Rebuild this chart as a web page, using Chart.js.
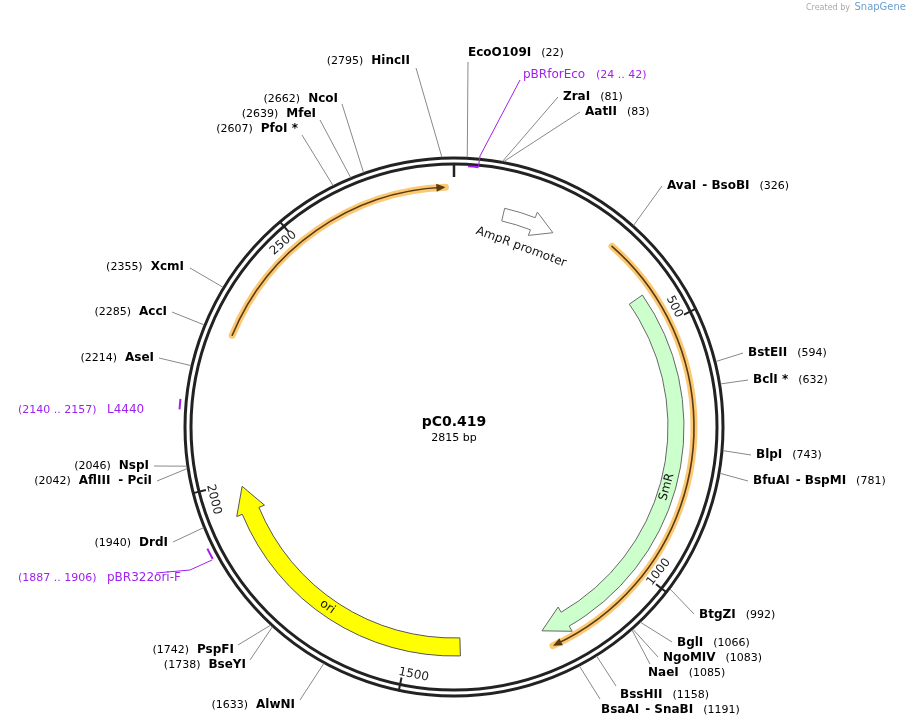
<!DOCTYPE html>
<html><head><meta charset="utf-8">
<script src="https://cdn.jsdelivr.net/npm/chart.js@4"></script>
<style>html,body{margin:0;padding:0;background:#fff}#w{width:910px;height:727px}</style>
</head><body><div id="w"><canvas id="c" width="910" height="727"></canvas></div>
<script>
const plasmidName = "pC0.419";
const plasmidLength = 2815;
const enzymeNames = ["EcoO109I","ZraI","AatII","AvaI - BsoBI","BstEII","BclI *","BlpI","BfuAI - BspMI","BtgZI","BglI","NgoMIV","NaeI","BssHII","BsaAI - SnaBI","AlwNI","BseYI","PspFI","DrdI","AflIII - PciI","NspI","AseI","AccI","XcmI","PfoI *","MfeI","NcoI","HincII"];
const enzymeSites = [22,81,83,326,594,632,743,781,992,1066,1083,1085,1158,1191,1633,1738,1742,1940,2042,2046,2214,2285,2355,2607,2639,2662,2795];
const featureNames = ["AmpR promoter","SmR","ori"];
const featureStarts = [102,430,1395];
const featureEnds = [211,1225,1989];
const primerNames = ["pBRforEco","L4440","pBR322ori-F"];
const primerStarts = [24,2140,1887];
const primerEnds = [42,2157,1906];
const tickValues = [500,1000,1500,2000,2500];

const labelLayout = [
 [468,56,'R',468,62],[563,100,'R',558,97],[585,115,'R',580,112],[667,189,'R',662,186],
 [748,356,'R',743,353],[753,383,'R',748,380],[756,458,'R',751,455],[753,484,'R',748,481],
 [699,618,'R',694,614],[677,646,'R',672,642],[663,661,'R',658,657],[648,676,'R',650,664],
 [620,698,'R',616,686],[601,713,'R',600,699],
 [295,708,'L',300,700],[246,668,'L',250,660],[234,653,'L',238,645],[168,546,'L',173,542],
 [152,484,'L',157,481],[149,469,'L',154,466],[154,361,'L',159,358],[167,315,'L',172,312],
 [184,270,'L',190,268],[298,132,'L',302,135],[316,117,'L',320,120],[338,102,'L',342,104],[410,64,'L',416,68]
];

const CX=454, CY=427, R=266;
const ang = bp => bp/plasmidLength*2*Math.PI - Math.PI/2;
const FONT = '"DejaVu Sans", Verdana, sans-serif';

const mapPlugin = {
 id:'map',
 afterDatasetsDraw(chart){
  const ctx=chart.ctx, xs=chart.scales.x, ys=chart.scales.y;
  const P=(x,y)=>[xs.getPixelForValue(x), ys.getPixelForValue(y)];
  const pol=(bp,r)=>P(CX+r*Math.cos(ang(bp)), CY+r*Math.sin(ang(bp)));
  const [cx,cy]=P(CX,CY);
  const k = xs.getPixelForValue(1)-xs.getPixelForValue(0);
  ctx.save();
  ctx.strokeStyle='#222'; ctx.lineWidth=3;
  [R+3,R-3].forEach(r=>{ctx.beginPath();ctx.arc(cx,cy,r*k,0,2*Math.PI);ctx.stroke();});
  ctx.lineWidth=2.5; ctx.beginPath(); let a=pol(0,R-3),b=pol(0,R-16); ctx.moveTo(...a);ctx.lineTo(...b);ctx.stroke();
  ctx.lineWidth=2; ctx.font='12px '+FONT; ctx.fillStyle='#222'; ctx.textAlign='center'; ctx.textBaseline='middle';
  tickValues.forEach(t=>{
    let a=pol(t,R+4),b=pol(t,R-10); ctx.beginPath();ctx.moveTo(...a);ctx.lineTo(...b);ctx.stroke();
    let th=t/plasmidLength*2*Math.PI; let rot=(th>Math.PI/2&&th<3*Math.PI/2)?th-Math.PI:th;
    let p=pol(t-20, R-15);
    ctx.save();ctx.translate(...p);ctx.rotate(rot);ctx.fillText(String(t),0,0);ctx.restore();
  });
  function orange(s,e,r){
    const a1=ang(s), a2=ang(e);
    ctx.lineCap='round';
    ctx.strokeStyle='rgba(250,190,90,0.85)'; ctx.lineWidth=7;
    ctx.beginPath(); ctx.arc(cx,cy,r*k,a1,a2); ctx.stroke();
    ctx.strokeStyle='#5a3a10'; ctx.lineWidth=1.6;
    ctx.beginPath(); ctx.arc(cx,cy,r*k,a1,a2-0.01); ctx.stroke();
    const tip=pol(e,r), h=9/r, b1=pol(e-h*plasmidLength/(2*Math.PI),r+4), b2=pol(e-h*plasmidLength/(2*Math.PI),r-4);
    ctx.fillStyle='#5a3a10'; ctx.beginPath();ctx.moveTo(...tip);ctx.lineTo(...b1);ctx.lineTo(...b2);ctx.closePath();ctx.fill();
    ctx.lineCap='butt';
  }
  orange(322,1217,240); orange(2287,2799,240);
  const styles=[['#fff','#777',13,218],['#ccffcc','#666',16,222],['#ffff00','#555',18,220]];
  featureNames.forEach((n,i)=>{
    const [fill,st,w,r]=styles[i]; const s=featureStarts[i], e=featureEnds[i];
    const hl=(i==0?22:26)/r, eh=ang(e)-hl;
    const ro=r+w/2, ri=r-w/2, ex=i==0?6:6;
    ctx.beginPath();
    ctx.arc(cx,cy,ro*k,ang(s),eh);
    ctx.lineTo(cx+(ro+ex)*k*Math.cos(eh), cy+(ro+ex)*k*Math.sin(eh));
    ctx.lineTo(cx+r*k*Math.cos(ang(e)), cy+r*k*Math.sin(ang(e)));
    ctx.lineTo(cx+(ri-ex)*k*Math.cos(eh), cy+(ri-ex)*k*Math.sin(eh));
    ctx.lineTo(cx+ri*k*Math.cos(eh), cy+ri*k*Math.sin(eh));
    ctx.arc(cx,cy,ri*k,eh,ang(s),true);
    ctx.closePath(); ctx.fillStyle=fill; ctx.fill(); ctx.strokeStyle=st; ctx.lineWidth=1; ctx.stroke();
  });
  ctx.fillStyle='#111'; ctx.font='12px '+FONT;
  const flab=[[160,192],[827,221],[1682,220]];
  featureNames.forEach((n,i)=>{
    const [bp,r]=flab[i]; const th=bp/plasmidLength*2*Math.PI;
    const rot=(th>Math.PI/2&&th<3*Math.PI/2)?th-Math.PI:th;
    const p=pol(bp,r); ctx.save();ctx.translate(...p);ctx.rotate(rot);ctx.fillText(n,0,0);ctx.restore();
  });
  ctx.strokeStyle='#a020f0'; ctx.lineWidth=2;
  const prLay=[[261,523,78],[275,107,413],[275,107,581]];
  primerNames.forEach((n,i)=>{
    const [r,tx,ty]=prLay[i];
    ctx.beginPath(); ctx.arc(cx,cy,r*k,ang(primerStarts[i]),ang(primerEnds[i])); ctx.stroke();
    ctx.lineWidth=1; ctx.beginPath();
    if(i==0){ctx.moveTo(...pol(primerEnds[i],r));ctx.lineTo(...P(480,156));ctx.lineTo(...P(520,80));}
    else if(i==2){ctx.moveTo(...P(212,560));ctx.lineTo(...P(190,570));ctx.lineTo(...P(156,573));}
    ctx.stroke(); ctx.lineWidth=2;
    ctx.textAlign='left'; ctx.textBaseline='alphabetic'; ctx.fillStyle='#a020f0';
    const rng='('+primerStarts[i]+' .. '+primerEnds[i]+')';
    if(i==0){ctx.font='12px '+FONT;ctx.fillText(n,...P(tx,ty)); ctx.font='11px '+FONT;ctx.fillText(rng,...P(596,ty));}
    else {ctx.font='11px '+FONT;ctx.fillText(rng,...P(18,ty)); ctx.font='12px '+FONT;ctx.fillText(n,...P(tx,ty));}
  });
  enzymeNames.forEach((n,i)=>{
    const [tx,ty,side,ax,ay]=labelLayout[i];
    const s=pol(enzymeSites[i],R+4);
    ctx.strokeStyle='#888'; ctx.lineWidth=1; ctx.beginPath(); ctx.moveTo(...s); ctx.lineTo(...P(ax,ay)); ctx.stroke();
    ctx.fillStyle='#000'; ctx.textBaseline='alphabetic';
    const parts=n.split(' - ');
    const num='('+enzymeSites[i]+')';
    if(side==='R'){
      ctx.textAlign='left'; let x=tx;
      ctx.font='bold 12px '+FONT; ctx.fillText(parts[0],...P(x,ty)); x+=ctx.measureText(parts[0]).width/k;
      if(parts[1]){ x+=6; ctx.fillText('- '+parts[1],...P(x,ty)); x+=ctx.measureText('- '+parts[1]).width/k; }
      ctx.font='11px '+FONT; x+=10; ctx.fillText(num,...P(x,ty));
    } else {
      ctx.textAlign='right'; let x=tx;
      ctx.font='bold 12px '+FONT;
      if(parts[1]){ ctx.fillText('- '+parts[1],...P(x,ty)); x-=ctx.measureText('- '+parts[1]).width/k+8; }
      ctx.fillText(parts[0],...P(x,ty)); x-=ctx.measureText(parts[0]).width/k+8;
      ctx.font='11px '+FONT; ctx.fillText(num,...P(x,ty));
    }
  });
  ctx.textAlign='center'; ctx.fillStyle='#000';
  ctx.font='bold 14px '+FONT; ctx.fillText(plasmidName,...P(CX,CY-1));
  ctx.font='11px '+FONT; ctx.fillText(plasmidLength+' bp',...P(CX,CY+14));
  ctx.textAlign='right'; ctx.fillStyle='#aaa'; ctx.font='8px '+FONT; ctx.fillText('Created by',...P(850,10));
  ctx.fillStyle='#6a9fcf'; ctx.font='10px '+FONT; ctx.fillText('SnapGene',...P(906,10));
  ctx.restore();
 }
};

new Chart(document.getElementById('c'),{
 type:'scatter',
 data:{datasets:[{data:enzymeSites.map(b=>({x:CX+R*Math.cos(ang(b)),y:CY+R*Math.sin(ang(b))})),pointRadius:0}]},
 options:{responsive:false,animation:false,devicePixelRatio:1,
  layout:{padding:0},
  plugins:{legend:{display:false},tooltip:{enabled:false}},
  scales:{x:{type:'linear',min:0,max:910,display:false},y:{type:'linear',min:0,max:727,reverse:true,display:false}}},
 plugins:[mapPlugin]
});
</script></body></html>
